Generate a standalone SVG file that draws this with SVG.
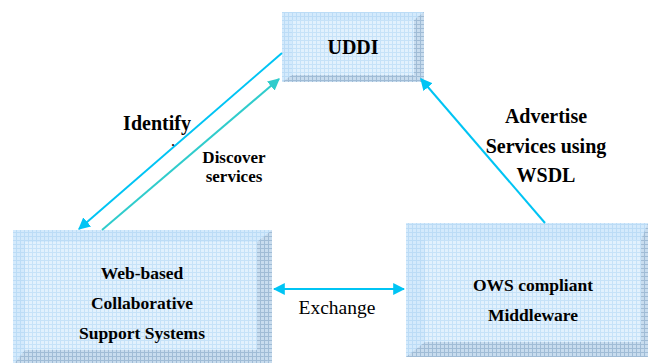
<svg xmlns="http://www.w3.org/2000/svg" width="648" height="363" viewBox="0 0 648 363">
<style>
text{font-family:"Liberation Serif","Times New Roman",Tinos,"DejaVu Serif",serif;fill:#000;text-anchor:middle}
.b{font-weight:bold}
.face{fill:url(#grid)}
.lt{fill:url(#gridL)}
.dk{fill:url(#gridD)}
</style>
<defs>
<pattern id="grid" width="4" height="4" patternUnits="userSpaceOnUse">
<rect width="4" height="4" fill="#e2f1fd"/>
<path d="M0 0.5H4M0.5 0V4" stroke="#c6e2f8" stroke-width="1"/>
</pattern>
<pattern id="gridL" width="4" height="4" patternUnits="userSpaceOnUse">
<rect width="4" height="4" fill="#d4eafc"/>
<path d="M0 0.5H4M0.5 0V4" stroke="#bcdcf6" stroke-width="1"/>
</pattern>
<pattern id="gridD" width="4" height="4" patternUnits="userSpaceOnUse">
<rect width="4" height="4" fill="#c8dcee"/>
<path d="M0 0.5H4M0.5 0V4" stroke="#a0bcd6" stroke-width="1"/>
</pattern>
<marker id="ac" viewBox="0 0 10 10" refX="9" refY="5" markerWidth="6" markerHeight="6" orient="auto-start-reverse" markerUnits="strokeWidth">
<path d="M0 0L10 5L0 10Z" fill="#00c4f4"/>
</marker>
<marker id="at" viewBox="0 0 10 10" refX="9" refY="5" markerWidth="6" markerHeight="6" orient="auto" markerUnits="strokeWidth">
<path d="M0 0L10 5L0 10Z" fill="#30cccc"/>
</marker>
</defs>

<g id="uddi">
<rect x="282" y="12" width="142" height="70" class="lt"/>
<polygon points="414,20 424,12 424,82 414,75" class="dk"/>
<polygon points="292,75 414,75 424,82 282,82" class="dk"/>
<rect x="292" y="20" width="122" height="55" class="face"/>
<text x="353" y="54" class="b" font-size="20">UDDI</text>
</g>

<g id="web">
<rect x="13" y="230" width="259" height="135" class="lt"/>
<polygon points="257,242 272,230 272,365 257,350" class="dk"/>
<polygon points="25,350 257,350 272,365 13,365" class="dk"/>
<rect x="25" y="242" width="232" height="108" class="face"/>
<text x="142" y="279" class="b" font-size="17.5">Web-based</text>
<text x="142" y="309" class="b" font-size="17.5">Collaborative</text>
<text x="142" y="339" class="b" font-size="17.5">Support Systems</text>
</g>

<g id="ows">
<rect x="406" y="223" width="242" height="134" class="lt"/>
<polygon points="641,240 648,223 648,357 641,342" class="dk"/>
<polygon points="425,342 641,342 648,357 406,357" class="dk"/>
<rect x="425" y="240" width="216" height="102" class="face"/>
<text x="533" y="291" class="b" font-size="17.5">OWS compliant</text>
<text x="533" y="321" class="b" font-size="17.5">Middleware</text>
</g>

<g id="connectors" fill="none" stroke-width="2">
<line x1="282" y1="53" x2="79" y2="229" stroke="#00c4f4" marker-end="url(#ac)"/>
<line x1="102" y1="230" x2="279" y2="79" stroke="#30cccc" marker-end="url(#at)"/>
<line x1="545" y1="223" x2="421" y2="79" stroke="#00c4f4" marker-end="url(#ac)"/>
<line x1="274" y1="289" x2="404" y2="289" stroke="#00c4f4" marker-start="url(#ac)" marker-end="url(#ac)"/>
</g>

<g id="labels">
<text x="157" y="130" class="b" font-size="20">Identify</text>
<text x="173" y="146" class="b" font-size="12">.</text>
<text x="234" y="163" class="b" font-size="17">Discover</text>
<text x="234" y="182" class="b" font-size="17">services</text>
<text x="546" y="123" class="b" font-size="20">Advertise</text>
<text x="546" y="153" class="b" font-size="20">Services using</text>
<text x="546" y="182" class="b" font-size="20">WSDL</text>
<text x="337" y="314" font-size="19.5">Exchange</text>
</g>
</svg>
